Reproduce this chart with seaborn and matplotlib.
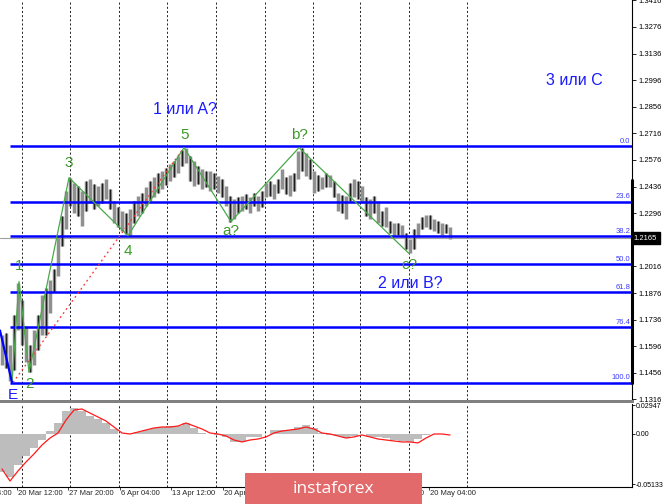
import numpy as np
import matplotlib
matplotlib.use("Agg")
import matplotlib.pyplot as plt
import seaborn as sns
from matplotlib.patches import Rectangle
from matplotlib.transforms import blended_transform_factory

sns.set_style("white")
plt.rcParams['font.family'] = ['Liberation Sans', 'DejaVu Sans']

# ---------------- data ----------------
bar_high = [1.1653, 1.1668, 1.1600, 1.1758, 1.1931, 1.1837, 1.1705, 1.1600, 1.1679, 1.1758,
            1.1863, 1.1900, 1.1942, 1.2005, 1.2178, 1.2283, 1.2415, 1.2483, 1.2457, 1.2441,
            1.2415, 1.2467, 1.2478, 1.2451, 1.2441, 1.2457, 1.2478, 1.2425, 1.2362, 1.2330,
            1.2309, 1.2299, 1.2320, 1.2362, 1.2388, 1.2404, 1.2436, 1.2467, 1.2488, 1.2509,
            1.2520, 1.2535, 1.2556, 1.2572, 1.2599, 1.2630, 1.2641, 1.2599, 1.2572, 1.2546,
            1.2530, 1.2520, 1.2520, 1.2509, 1.2493, 1.2478, 1.2441, 1.2388, 1.2373, 1.2383,
            1.2388, 1.2399, 1.2383, 1.2404, 1.2388, 1.2415, 1.2457, 1.2467, 1.2451, 1.2478,
            1.2530, 1.2488, 1.2499, 1.2509, 1.2625, 1.2641, 1.2614, 1.2583, 1.2520, 1.2499,
            1.2488, 1.2509, 1.2499, 1.2467, 1.2404, 1.2394, 1.2388, 1.2457, 1.2478, 1.2467,
            1.2441, 1.2383, 1.2373, 1.2388, 1.2362, 1.2309, 1.2330, 1.2257, 1.2246, 1.2246,
            1.2236, 1.2194, 1.2162, 1.2215, 1.2246, 1.2278, 1.2288, 1.2288, 1.2267, 1.2257,
            1.2246, 1.2241, 1.2225]
bar_low = [1.1495, 1.1479, 1.1411, 1.1469, 1.1679, 1.1600, 1.1511, 1.1458, 1.1495, 1.1574,
           1.1653, 1.1653, 1.1773, 1.1879, 1.1968, 1.2126, 1.2215, 1.2336, 1.2299, 1.2283,
           1.2231, 1.2309, 1.2352, 1.2320, 1.2336, 1.2352, 1.2373, 1.2320, 1.2246, 1.2225,
           1.2204, 1.2189, 1.2178, 1.2246, 1.2283, 1.2299, 1.2336, 1.2362, 1.2383, 1.2404,
           1.2425, 1.2446, 1.2467, 1.2488, 1.2509, 1.2546, 1.2562, 1.2467, 1.2441, 1.2451,
           1.2425, 1.2436, 1.2415, 1.2425, 1.2404, 1.2383, 1.2336, 1.2252, 1.2267, 1.2299,
           1.2309, 1.2320, 1.2299, 1.2336, 1.2309, 1.2330, 1.2383, 1.2388, 1.2373, 1.2404,
           1.2425, 1.2399, 1.2388, 1.2415, 1.2478, 1.2520, 1.2493, 1.2478, 1.2404, 1.2415,
           1.2425, 1.2436, 1.2436, 1.2383, 1.2309, 1.2299, 1.2267, 1.2362, 1.2383, 1.2373,
           1.2352, 1.2283, 1.2267, 1.2299, 1.2246, 1.2231, 1.2225, 1.2194, 1.2178, 1.2183,
           1.2173, 1.2110, 1.2084, 1.2110, 1.2173, 1.2215, 1.2225, 1.2215, 1.2204, 1.2194,
           1.2183, 1.2194, 1.2162]
last_price = 1.2165

wave_labels = ["E", "1", "2", "3", "4", "5", "a?", "b?", "c?"]
wave_x = [3.0, 4.75, 7.25, 17.25, 32.0, 46.0, 57.75, 74.75, 102.25]
wave_price = [1.1405, 1.1936, 1.1458, 1.2483, 1.2178, 1.2641, 1.2252, 1.2641, 1.2084]
e_leg_x = [0.0, 3.0]
e_leg_price = [1.1679, 1.1405]
channel_x = [3.25, 46.0]
channel_price = [1.1405, 1.2641]

fib_high = 1.2651
fib_low = 1.1405
fib_levels = [0.0, 23.6, 38.2, 50.0, 61.8, 76.4, 100.0]

big_labels = ["1 или A?", "3 или C", "2 или B?"]
big_x = [46.25, 143.5, 102.5]
big_price = [1.2840, 1.2993, 1.1926]

price_ticks = [1.1316, 1.1456, 1.1596, 1.1736, 1.1876, 1.2016, 1.2156, 1.2296,
               1.2436, 1.2576, 1.2716, 1.2856, 1.2996, 1.3136, 1.3276, 1.3416]

macd_hist = [-0.0386, -0.0437, -0.0315, -0.0224, -0.0142, -0.0061, 0.0030, 0.0112, 0.0234, 0.0264,
             0.0234, 0.0183, 0.0152, 0.0112, 0.0051, 0.0000, 0.0003, 0.0020, 0.0041, 0.0061,
             0.0071, 0.0081, 0.0081, 0.0112, 0.0061, 0.0010, 0.0000, -0.0010, -0.0030, -0.0081,
             -0.0081, -0.0030, -0.0030, 0.0000, 0.0041, 0.0041, 0.0041, 0.0071, 0.0091, 0.0061,
             0.0010, -0.0010, -0.0020, -0.0041, -0.0020, 0.0000, -0.0030, -0.0030, -0.0041, -0.0061,
             -0.0071, -0.0081, -0.0051, -0.0010, 0.0000, 0.0000, 0.0000]
macd_signal = [-0.0356, -0.0478, -0.0376, -0.0285, -0.0203, -0.0112, -0.0041, 0.0010, 0.0142, 0.0244,
               0.0254, 0.0213, 0.0173, 0.0132, 0.0071, 0.0010, 0.0000, 0.0020, 0.0041, 0.0061,
               0.0071, 0.0071, 0.0081, 0.0112, 0.0081, 0.0051, 0.0010, 0.0000, -0.0020, -0.0061,
               -0.0081, -0.0061, -0.0051, -0.0030, 0.0010, 0.0030, 0.0041, 0.0051, 0.0071, 0.0051,
               0.0010, 0.0000, -0.0020, -0.0041, -0.0030, -0.0010, -0.0030, -0.0051, -0.0061, -0.0071,
               -0.0081, -0.0081, -0.0091, -0.0041, 0.0000, 0.0000, -0.0010]
macd_ticks = [0.02947, 0.0, -0.05133]
macd_tick_labels = ["0.02947", "0.00", "-0.05133"]

# visible time labels (the ones under the watermark are not shown)
date_labels = ["13 Mar 04:00", "20 Mar 12:00", "27 Mar 20:00", "6 Apr 04:00", "13 Apr 12:00",
               "20 Apr 20:00", "12 May 20:00", "20 May 04:00"]
date_pos = [-8.6, 4.25, 17.0, 30.0, 42.75, 55.75, 94.25, 107.25]
grid_pos = [5.5, 17.5, 29.75, 41.75, 54.0, 66.25, 78.25, 90.0, 102.25, 116.75]

# ---------------- figure ----------------
W, H = 665, 504
fig = plt.figure(figsize=(W / 100, H / 100), dpi=100)
fig.patch.set_facecolor("white")
ax = fig.add_axes([0, 1 - 400 / H, 632 / W, 400 / H])
ax2 = fig.add_axes([0, (H - 487) / H, 632 / W, (487 - 404) / H])

XMAX = 158
for a in (ax, ax2):
    a.set_xlim(0, XMAX)
    a.set_facecolor("white")
    for s in ("left", "top"):
        a.spines[s].set_visible(False)
    a.spines["right"].set_color("black")
    a.spines["right"].set_linewidth(0.8)
    for g in grid_pos:
        a.axvline(g, color="black", lw=0.6, ls=(0, (2.5, 2.5)), zorder=0.5)

ax.set_ylim(1.1313, 1.3418)
ax.spines["bottom"].set_visible(False)

# price bars
n = len(bar_high)
xb = np.arange(n) + 0.5
hi = np.array(bar_high)
lo = np.array(bar_low)
ax.vlines(xb, lo, hi, color="#909090", lw=2.5, zorder=2)
ax.vlines(xb[1::2], lo[1::2], hi[1::2], color="#1e1e1e", lw=0.9, zorder=2.1)

# bid line
ax.axhline(last_price, color="#a0a0a0", lw=0.8, zorder=1)

# fibonacci levels
fib_prices = [fib_high - (fib_high - fib_low) * lv / 100.0 for lv in fib_levels]
for lv, fp in zip(fib_levels, fib_prices):
    ax.plot([2.5, XMAX], [fp, fp], color="#0000ff", lw=1.8, zorder=3, solid_capstyle="butt")
    ax.text(157.6, fp + 0.0006, f"{lv:.1f}", color="#3b3bff", fontsize=5.5,
            ha="right", va="bottom", zorder=4)

# wave lines
sns.lineplot(x=wave_x, y=wave_price, ax=ax, color="#49a84a", lw=0.9, sort=False,
             estimator=None, zorder=5)
sns.lineplot(x=e_leg_x, y=e_leg_price, ax=ax, color="#0000ff", lw=1.6, sort=False,
             estimator=None, zorder=5)
sns.lineplot(x=channel_x, y=channel_price, ax=ax, color="#ff3030", lw=0.9, sort=False,
             estimator=None, zorder=4.5, linestyle=(0, (1.5, 2.5)))

offsets = {"E": (1, -12), "1": (0, 16), "2": (1, -12), "3": (0, 15), "4": (0, -15),
           "5": (1, 13), "a?": (0, -9), "b?": (0, 13), "c?": (0, -12)}
for lab, xv, pv in zip(wave_labels, wave_x, wave_price):
    col = "#1a1aff" if lab == "E" else "#3c9a28"
    ax.annotate(lab, (xv, pv), xytext=offsets[lab], textcoords="offset pixels",
                ha="center", va="center", fontsize=11, color=col, zorder=6)

for lab, xv, pv in zip(big_labels, big_x, big_price):
    ax.text(xv, pv, lab, ha="center", va="center", fontsize=11.5, color="#1a1aff", zorder=6)

# price axis
ax.yaxis.tick_right()
ax.set_yticks(price_ticks)
ax.set_yticklabels([("" if abs(t - 1.2156) < 1e-6 else f"{t:.4f}") for t in price_ticks])
ax.tick_params(axis="y", right=True, left=False, length=3, width=0.6, labelsize=5.5,
               pad=2, colors="black")
ax.set_xticks([])
ax.set_xlabel("")
ax.set_ylabel("")

# spine emphasis
ax.plot([XMAX, XMAX], [1.1403, 1.2471], color="black", lw=2.2, clip_on=False, zorder=7)

# current price tag
tr = blended_transform_factory(ax.transAxes, ax.transData)
ax.text(1.003, last_price, "1.2165", transform=tr, fontsize=5.5, color="white",
        ha="left", va="center", zorder=8,
        bbox=dict(boxstyle="square,pad=0.3", fc="black", ec="black"))

# ---------------- MACD ----------------
ax2.set_ylim(-0.0539, 0.0305)
xm = np.arange(len(macd_hist)) * 2 + 0.5
ax2.bar(xm, macd_hist, width=2.0, color="#bdbdbd", linewidth=0, zorder=2)
sns.lineplot(x=xm, y=macd_signal, ax=ax2, color="#ff1a1a", lw=0.9, estimator=None, zorder=3)
ax2.yaxis.tick_right()
ax2.set_yticks(macd_ticks)
ax2.set_yticklabels(macd_tick_labels)
ax2.tick_params(axis="y", right=True, left=False, length=2, width=0.6, labelsize=5.0,
                pad=1, colors="black")
ax2.spines["bottom"].set_color("black")
ax2.spines["bottom"].set_linewidth(0.8)
ax2.spines["top"].set_visible(False)
ax2.set_xticks([p for p in date_pos if 0 <= p <= XMAX])
ax2.set_xticklabels([])
ax2.tick_params(axis="x", bottom=True, length=2, width=0.6)
ax2.set_xlabel("")
ax2.set_ylabel("")
trx = blended_transform_factory(ax2.transData, ax2.transAxes)
for lab, p in zip(date_labels, date_pos):
    ax2.text(p + 0.3, -0.04, lab, transform=trx, fontsize=5.5, ha="left", va="top",
             clip_on=False)

# separator between panels
fig.add_artist(Rectangle((0, 1 - 403 / H), 634 / W, 3 / H, transform=fig.transFigure,
                         facecolor="#808080", edgecolor="none", zorder=9))

# watermark logo
fig.add_artist(Rectangle((245 / W, 1 - 504 / H), 177 / W, 31 / H, transform=fig.transFigure,
                         facecolor="#e26a6a", edgecolor="none", zorder=10))
fig.text(333 / W, 1 - 489 / H, "instaforex", color="white", fontsize=12.5,
         family=["Open Sans", "DejaVu Sans"], ha="center", va="center", zorder=11)

fig.savefig("out.png", dpi=100)
